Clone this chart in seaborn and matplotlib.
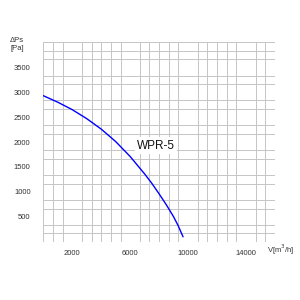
import numpy as np
import pandas as pd
import seaborn as sns
import matplotlib.pyplot as plt

# Fan curve
flow = [0, 1000, 2000, 3000, 4000, 5000, 6000, 7000, 7500, 8000, 8500, 9000, 9300, 9650]
pressure = [2930, 2800, 2650, 2470, 2260, 2010, 1710, 1360, 1170, 960, 740, 500, 330, 100]
x_labels = [2000, 6000, 10000, 14000]
y_labels = [500, 1000, 1500, 2000, 2500, 3000, 3500]
model = 'WPR-5'

df = pd.DataFrame({'V': flow, 'Ps': pressure})

sns.set_style('white')
plt.rcParams['font.family'] = ['Liberation Sans', 'DejaVu Sans']

fig = plt.figure(figsize=(3, 3), dpi=100)
ax = fig.add_axes([0.144, 0.194, 0.773, 0.665])

sns.lineplot(data=df, x='V', y='Ps', color='#0000ff', linewidth=1.0, ax=ax)

ax.set_xlim(0, 16000)
ax.set_ylim(0, 4000)

# grid: 24 x 24 cells
ax.set_xticks(np.linspace(0, 16000, 25), minor=True)
ax.set_yticks(np.linspace(0, 4000, 25), minor=True)
ax.grid(which='minor', color='#c6c6c6', linewidth=0.72, antialiased=False)
ax.set_axisbelow(True)

ax.set_xticks(x_labels)
ax.set_xticklabels([str(v) for v in x_labels])
ax.set_yticks(y_labels)
ax.set_yticklabels([str(v) for v in y_labels])
ax.tick_params(which='both', length=0, labelsize=5.5, colors='#333333')
ax.tick_params(axis='x', pad=6)
ax.tick_params(axis='y', pad=9)

for s in ax.spines.values():
    s.set_visible(False)

ax.set_xlabel('')
ax.set_ylabel('')

ax.text(6460, 1930, model, fontsize=8.5, ha='left', va='center', color='#111111',
        bbox=dict(facecolor='white', edgecolor='none', pad=1.5))

fig.text(0.057, 0.865, 'ΔPs', fontsize=5.5, ha='center', va='center', color='#333333')
fig.text(0.057, 0.837, '[Pa]', fontsize=5.5, ha='center', va='center', color='#333333')
fig.text(0.935, 0.168, 'V[m$^3$/h]', fontsize=5.5, ha='center', va='center', color='#333333')

fig.savefig('out.png', dpi=100)
